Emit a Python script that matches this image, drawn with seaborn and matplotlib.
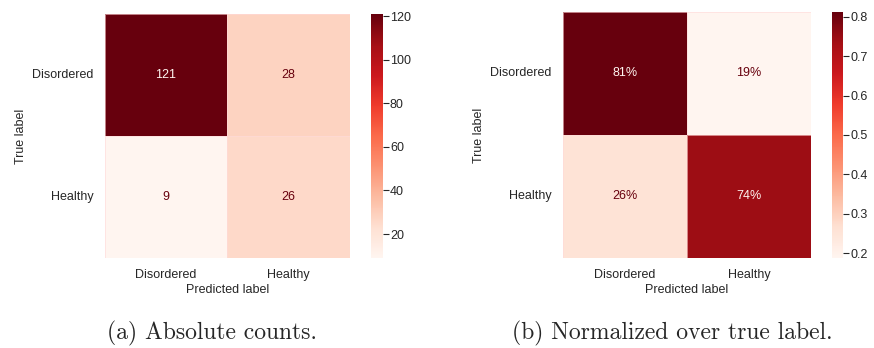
import numpy as np
import matplotlib
matplotlib.use("Agg")
import matplotlib.pyplot as plt
import seaborn as sns

# Confusion matrix of the classifier (rows: true label, cols: predicted label)
class_names = ["Disordered", "Healthy"]
counts = np.array([[121, 28],
                   [9, 26]])
count_ticks = [20, 40, 60, 80, 100, 120]
ratio_ticks = [0.2, 0.3, 0.4, 0.5, 0.6, 0.7, 0.8]
captions = ["(a) Absolute counts.", "(b) Normalized over true label."]

# Row-normalised version (share of each true class)
normalized = counts / counts.sum(axis=1, keepdims=True)

sns.set_theme(style="white")
plt.rcParams["font.family"] = ["Liberation Sans", "DejaVu Sans"]
plt.rcParams["text.color"] = "#262626"
plt.rcParams["axes.labelcolor"] = "#262626"
plt.rcParams["xtick.color"] = "#262626"
plt.rcParams["ytick.color"] = "#262626"

fig = plt.figure(figsize=(8.74, 3.48), dpi=100)
cmap = plt.get_cmap("Reds")

panels = [
    dict(data=counts, fmt="d", ticks=count_ticks, tickfmt="{:.0f}",
         ax=[0.120, 0.2586, 0.280, 0.701], cax=[0.4245, 0.2586, 0.0137, 0.701],
         caption=captions[0], cap_x=0.243),
    dict(data=normalized, fmt=".0%", ticks=ratio_ticks, tickfmt="{:.1f}",
         ax=[0.644, 0.2586, 0.284, 0.707], cax=[0.952, 0.2586, 0.0126, 0.707],
         caption=captions[1], cap_x=0.769),
]

for p in panels:
    ax = fig.add_axes(p["ax"])
    cax = fig.add_axes(p["cax"])
    data = p["data"]
    vmin, vmax = data.min(), data.max()
    sns.heatmap(data, ax=ax, cbar_ax=cax, cmap=cmap, vmin=vmin, vmax=vmax,
                annot=True, fmt=p["fmt"], annot_kws={"fontsize": 9},
                xticklabels=class_names, yticklabels=class_names,
                linewidths=0.4, linecolor=(1, 0.85, 0.85, 0.6))
    # light text on dark cells, dark red text on pale cells
    thresh = (vmax + vmin) / 2
    for txt, val in zip(ax.texts, data.flatten()):
        txt.set_color(cmap(0.0) if val > thresh else cmap(1.0))
    ax.set_xlabel("Predicted label", fontsize=9, labelpad=2)
    ax.set_ylabel("True label", fontsize=9, labelpad=4)
    ax.tick_params(axis="both", labelsize=9, length=0, pad=8)
    ax.tick_params(axis="y", rotation=0)
    cax.set_yticks(p["ticks"])
    cax.set_yticklabels([p["tickfmt"].format(t) for t in p["ticks"]])
    cax.tick_params(axis="y", labelsize=9, length=4, width=0.8, pad=1,
                    color="#262626", right=True)
    fig.text(p["cap_x"], 0.025, p["caption"], ha="center", va="baseline",
             fontsize=17, family=["cmr10", "DejaVu Serif"])

fig.savefig("out.png", dpi=100, facecolor="white")
